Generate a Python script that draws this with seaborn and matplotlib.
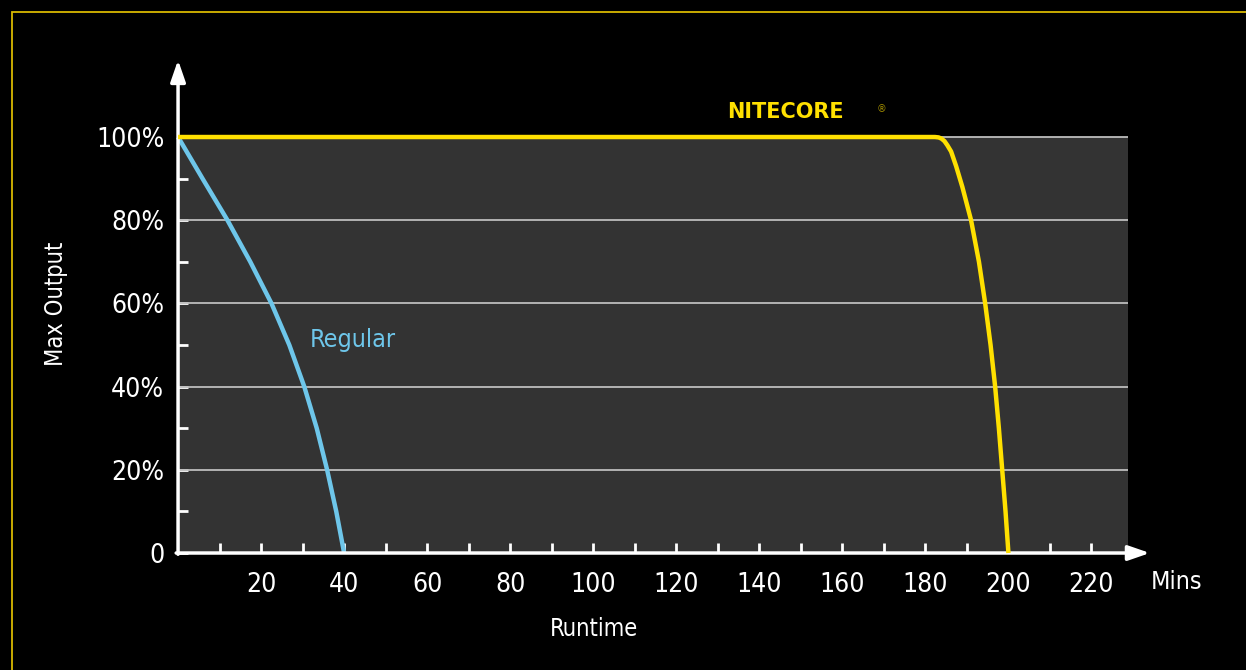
import matplotlib
matplotlib.use("Agg")
import seaborn as sns
from matplotlib import pyplot as plt
from matplotlib.patches import Rectangle

# runtime curves (minutes, % of max output)
regular_min = [0, 5.9, 11.9, 17.4, 22.5, 26.8, 30.4, 33.4, 35.9, 38.1, 40.0]
regular_out = [100, 90, 80, 70, 60, 50, 40, 30, 20, 10, 0]

nitecore_min = [0, 182.3, 183.2, 183.9, 184.6, 185.3, 186.2, 187.4, 188.9,
                191.0, 192.9, 194.4, 195.7, 196.8, 197.7, 198.5, 199.3, 200.0]
nitecore_out = [100, 100, 99.9, 99.6, 99.0, 98.0, 96.5, 93, 88,
                80, 70, 60, 50, 40, 30, 20, 10, 0]

x_ticks = [20, 40, 60, 80, 100, 120, 140, 160, 180, 200, 220]
y_ticks = [0, 20, 40, 60, 80, 100]
y_labels = ["0", "20%", "40%", "60%", "80%", "100%"]

sns.set_style("dark")
plt.rcParams['font.family'] = ['DejaVu Sans']
plt.rcParams['font.stretch'] = 'condensed'

fig = plt.figure(figsize=(12.46, 6.70), dpi=100, facecolor="black")
ax = fig.add_axes([0.1429, 0.1746, 0.7624, 0.6209])
ax.set_facecolor("#333333")

# yellow frame round the picture
fig.patches.append(Rectangle((12 / 1246, -0.1), 2, 1 - 12 / 670 + 0.1,
                             transform=fig.transFigure, fill=False,
                             edgecolor="#d9b800", linewidth=1.3))

for y in [20, 40, 60, 80, 100]:
    ax.axhline(y, color="#bdbdbd", linewidth=1.3, zorder=1)

sns.lineplot(x=regular_min, y=regular_out, ax=ax, color="#6ec6ea",
             linewidth=3.2, sort=False, estimator=None, zorder=3)
sns.lineplot(x=nitecore_min, y=nitecore_out, ax=ax, color="#ffe000",
             linewidth=3.2, sort=False, estimator=None, zorder=4)
for ln in ax.lines:
    ln.set_clip_on(False)
    ln.set_solid_joinstyle("round")
    ln.set_solid_capstyle("butt")

ax.set_xlim(0, 228.8)
ax.set_ylim(0, 100)
for s in ax.spines.values():
    s.set_visible(False)

ax.set_xticks(x_ticks)
ax.set_xticks(range(10, 230, 10), minor=True)
ax.set_yticks(y_ticks)
ax.set_yticklabels(y_labels)
ax.set_yticks(range(10, 100, 10), minor=True)
ax.tick_params(axis="both", which="both", direction="in", length=7, width=2,
               colors="white", labelsize=19, left=True, bottom=True)
ax.tick_params(axis="x", which="major", pad=14)
ax.tick_params(axis="y", which="major", pad=10)
ax.grid(False)

# axis arrows
arrow = dict(arrowstyle="-|>,head_length=1.3,head_width=0.45", color="white",
             lw=2.5, shrinkA=0, shrinkB=0)
ax.annotate("", xy=(0, 1.185), xytext=(0, -0.003), xycoords="axes fraction",
            arrowprops=arrow, annotation_clip=False)
ax.annotate("", xy=(1.023, 0), xytext=(-0.002, 0), xycoords="axes fraction",
            arrowprops=arrow, annotation_clip=False)

ax.set_ylabel("Max Output", color="white", fontsize=17)
ax.yaxis.set_label_coords(-0.116, 0.60)
ax.set_xlabel("Runtime", color="white", fontsize=17)
ax.xaxis.set_label_coords(0.4377, -0.153)
ax.text(1.0516, -0.07, "Mins", transform=ax.transAxes, color="white",
        fontsize=18, ha="center", va="center")

ax.text(31.7, 51.2, "Regular", color="#6ec6ea", fontsize=18, va="center",
        ha="left")
ax.text(132.2, 106, "NITECORE", color="#ffe000", fontsize=15,
        fontweight="bold", fontstretch="normal", va="center", ha="left",
        clip_on=False)
ax.text(168.3, 106.8, "®", color="#a08c00", fontsize=7, fontstretch="normal",
        va="center", ha="left", clip_on=False)

fig.savefig("out.png", dpi=100, facecolor="black")
